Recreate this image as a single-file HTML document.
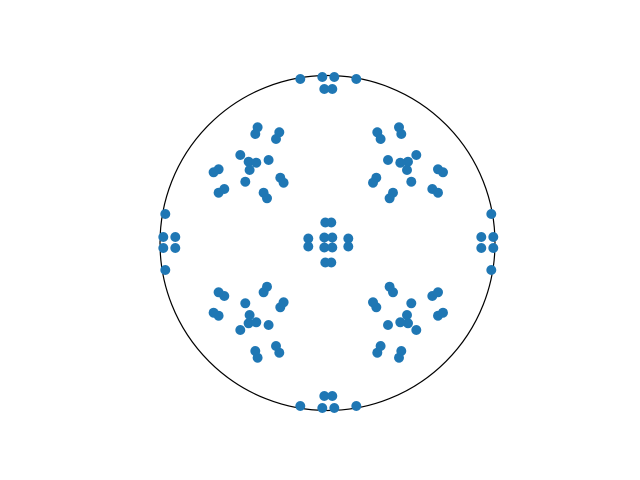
<!DOCTYPE html>
<html><head><meta charset="utf-8"><style>html,body{margin:0;padding:0;background:#fff}svg{display:block}</style></head>
<body>
<svg id="chart" width="640" height="480" viewBox="0 0 640 480" xmlns="http://www.w3.org/2000/svg">
<rect width="640" height="480" fill="#fff"/>
<circle cx="327.5" cy="243" r="167.5" fill="none" stroke="#000" stroke-width="1.2"/>
<g id="pts"></g>
</svg>
<script>
// data coordinates (units: offset from centre, y up)
const xs = [
 // upper-left cluster
 -70.7,-73,-49,-52.3,-88,-79.7,-72,-78.7,-59.7,-109.7,-114.7,-48,-44.7,-83,-104,-109.7,-64.7,-61.3,
 // upper-right cluster
 70.7,73,49,52.3,88,79.7,72,78.7,59.7,109.7,114.7,48,44.7,83,104,109.7,64.7,61.3,
 // lower-left cluster
 -70.7,-73,-49,-52.3,-88,-79.7,-72,-78.7,-59.7,-109.7,-114.7,-48,-44.7,-83,-104,-109.7,-64.7,-61.3,
 // lower-right cluster
 70.7,73,49,52.3,88,79.7,72,78.7,59.7,109.7,114.7,48,44.7,83,104,109.7,64.7,61.3,
 // top, bottom
 -28,-6,6,28,-4,4, -28,-6,6,28,-4,4,
 // left, right
 -163,-165,-153,-165,-153,-163, 163,165,153,165,153,163,
 // centre
 -3,3,-4,4,-4,4,-20,-20,20,20,-3,3
];
const ys = [
 115.2,108.5,110.2,103.5,87.5,80.8,79.8,72.5,82.5,73.2,70.2,64.8,59.8,60.8,53.5,49.8,49.8,44.2,
 115.2,108.5,110.2,103.5,87.5,80.8,79.8,72.5,82.5,73.2,70.2,64.8,59.8,60.8,53.5,49.8,49.8,44.2,
 -115.2,-108.5,-110.2,-103.5,-87.5,-80.8,-79.8,-72.5,-82.5,-73.2,-70.2,-64.8,-59.8,-60.8,-53.5,-49.8,-49.8,-44.2,
 -115.2,-108.5,-110.2,-103.5,-87.5,-80.8,-79.8,-72.5,-82.5,-73.2,-70.2,-64.8,-59.8,-60.8,-53.5,-49.8,-49.8,-44.2,
 163.5,165.5,165.5,163.5,153.5,153.5, -163.5,-165.5,-165.5,-163.5,-153.5,-153.5,
 28.5,5.5,5.5,-5.5,-5.5,-27.5, 28.5,5.5,5.5,-5.5,-5.5,-27.5,
 20,20,5,5,-5,-5,4,-4,4,-4,-20,-20
];
const CX = 328.3, CY = 242.5, K = 1;
function xScale(v){ return CX + v*K; }
function yScale(v){ return CY - v*K; }
const g = document.getElementById('pts');
const NS = 'http://www.w3.org/2000/svg';
for (let i = 0; i < xs.length; i++) {
  const c = document.createElementNS(NS, 'circle');
  c.setAttribute('cx', xScale(xs[i]));
  c.setAttribute('cy', yScale(ys[i]));
  c.setAttribute('r', 5);
  c.setAttribute('fill', '#1f77b4');
  
  
  g.appendChild(c);
}
</script>
</body></html>
